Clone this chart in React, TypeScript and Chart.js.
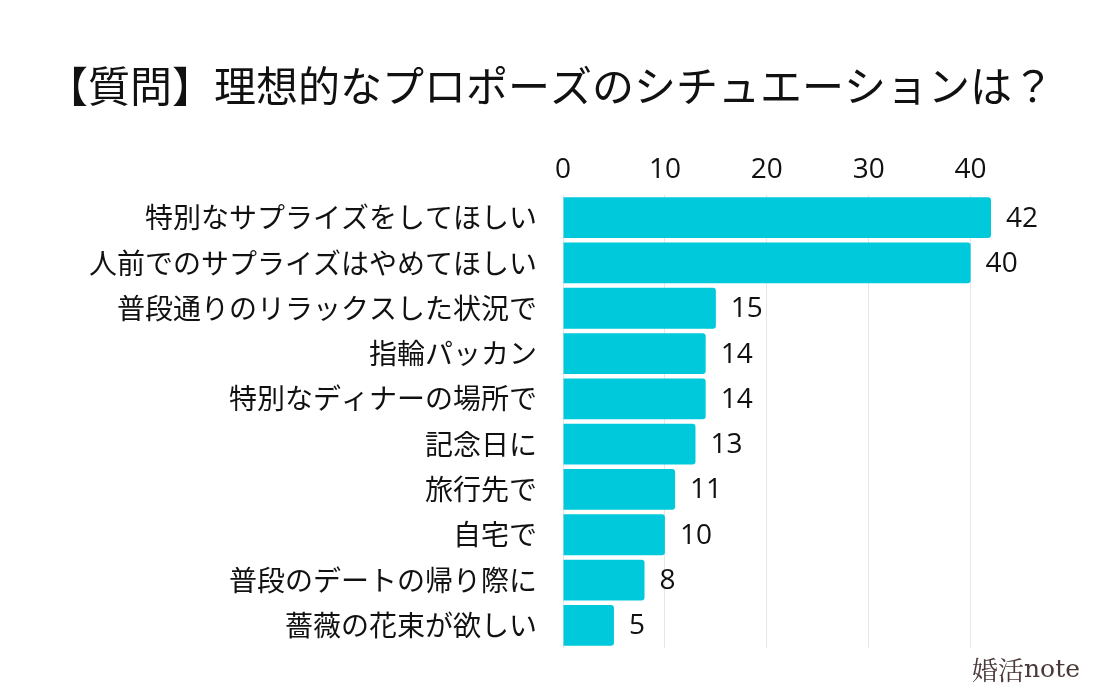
import React, { useEffect, useRef } from "react";
import { Chart, registerables } from "chart.js";

Chart.register(...registerables);

const title = "【質問】理想的なプロポーズのシチュエーションは？";
const categories = [
  "特別なサプライズをしてほしい",
  "人前でのサプライズはやめてほしい",
  "普段通りのリラックスした状況で",
  "指輪パッカン",
  "特別なディナーの場所で",
  "記念日に",
  "旅行先で",
  "自宅で",
  "普段のデートの帰り際に",
  "薔薇の花束が欲しい",
];
const values = [42, 40, 15, 14, 14, 13, 11, 10, 8, 5];
const tickValues = [0, 10, 20, 30, 40];

const FONT = "'Noto Sans CJK JP', 'Noto Sans', sans-serif";
const NUMFONT = "'Open Sans', 'Noto Sans', sans-serif";

export default function App() {
  const ref = useRef<HTMLCanvasElement>(null);
  useEffect(() => {
    const canvas = ref.current!;
    const chart = new Chart(canvas, {
      type: "bar",
      data: {
        labels: categories,
        datasets: [
          {
            data: values,
            backgroundColor: "#00C9DB",
            borderRadius: 3,
            borderSkipped: "start",
            barPercentage: 0.9,
            categoryPercentage: 1,
          },
        ],
      },
      options: {
        indexAxis: "y",
        animation: false,
        responsive: false,
        maintainAspectRatio: false,
        layout: { padding: { top: 140, right: 109, bottom: 52, left: 0 } },
        plugins: {
          legend: { display: false },
          tooltip: { enabled: false },
          title: { display: false },
        },
        scales: {
          x: {
            position: "top",
            min: 0,
            max: 42,
            grid: { color: "#e6e6e6", drawTicks: false, lineWidth: 1 },
            border: { display: false },
            ticks: {
              stepSize: 10,
              padding: 8,
              color: "#111",
              font: { family: NUMFONT, size: 28 },
            },
            afterBuildTicks: (scale: any) => {
              scale.ticks = tickValues.map((v) => ({ value: v }));
            },
            afterFit: (scale: any) => {
              scale.height = 55;
            },
          },
          y: {
            grid: { display: false },
            border: { display: false },
            ticks: {
              padding: 18,
              color: "#111",
              font: { family: FONT, size: 28 },
            },
            afterFit: (scale: any) => {
              scale.width = 563;
            },
          },
        },
      },
      plugins: [
        {
          id: "extras",
          afterDatasetsDraw(c: any) {
            const ctx = c.ctx;
            const meta = c.getDatasetMeta(0);
            ctx.save();
            ctx.fillStyle = "#111";
            ctx.font = `28px ${NUMFONT}`;
            ctx.textAlign = "left";
            ctx.textBaseline = "middle";
            meta.data.forEach((bar: any, i: number) => {
              ctx.fillText(String(values[i]), bar.x + 15, bar.y + 1);
            });
            ctx.font = `42px ${FONT}`;
            ctx.textAlign = "center";
            ctx.fillStyle = "#111";
            ctx.fillText(title, 550, 86);
            ctx.textAlign = "right";
            ctx.fillStyle = "#4a3838";
            ctx.font = `26px 'Noto Serif CJK JP', 'Noto Sans CJK JP', serif`;
            ctx.fillText("婚活", 1024, 670);
            ctx.font = `25px 'DejaVu Serif', 'Liberation Serif', serif`;
            ctx.textAlign = "left";
            ctx.fillText("note", 1024, 670);
            ctx.restore();
          },
        },
      ],
    } as any);
    return () => chart.destroy();
  }, []);
  return (
    <div style={{ position: "fixed", left: 0, top: 0, width: 1100, height: 700, background: "#fff" }}>
      <canvas ref={ref} width={1100} height={700} style={{ width: 1100, height: 700 }} />
    </div>
  );
}
